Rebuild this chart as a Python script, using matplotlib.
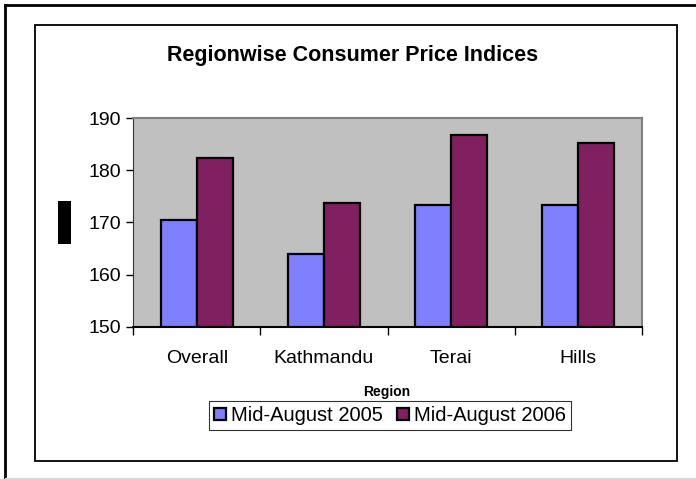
import numpy as np
import matplotlib
matplotlib.use("Agg")
import matplotlib.pyplot as plt
from matplotlib.patches import Rectangle

regions = ["Overall", "Kathmandu", "Terai", "Hills"]
cpi_2005 = [170.5, 164.0, 173.4, 173.4]
cpi_2006 = [182.4, 173.7, 186.7, 185.3]
series_names = ["Mid-August 2005", "Mid-August 2006"]
y_ticks = [150, 160, 170, 180, 190]

W, H = 696, 479
plt.rcParams['font.family'] = ['Liberation Sans', 'DejaVu Sans']

fig = plt.figure(figsize=(W / 100, H / 100), dpi=100)

def px_rect(x0, y0, x1, y1, **kw):
    # rectangle given in pixel coords (top-left origin)
    r = Rectangle((x0 / W, 1 - y1 / H), (x1 - x0) / W, (y1 - y0) / H,
                  transform=fig.transFigure, **kw)
    fig.add_artist(r)

# outer and inner frames
fig.add_artist(plt.Line2D([5 / W, 5 / W], [0, 1 - 5 / H], transform=fig.transFigure, color='black', lw=2))
fig.add_artist(plt.Line2D([5 / W, 1], [1 - 5 / H, 1 - 5 / H], transform=fig.transFigure, color='black', lw=2))
fig.add_artist(plt.Line2D([5 / W, 1], [1 - 477.5 / H, 1 - 477.5 / H], transform=fig.transFigure, color='#dddddd', lw=1))
px_rect(34.5, 24.5, 676.5, 461, fill=False, edgecolor='black', lw=1.3)

ax = fig.add_axes([133.3 / W, 1 - 326.7 / H, 508.4 / W, 208.4 / H])
ax.set_facecolor('#C0C0C0')

x = np.arange(len(regions))
bw = 0.2857
ax.bar(x - bw / 2, np.array(cpi_2005) - 150, bw, bottom=150, color='#8080FF',
       edgecolor='black', linewidth=1.6, label=series_names[0], zorder=3)
ax.bar(x + bw / 2, np.array(cpi_2006) - 150, bw, bottom=150, color='#802060',
       edgecolor='black', linewidth=1.6, label=series_names[1], zorder=3)

ax.set_xlim(-0.5, len(regions) - 0.5)
ax.set_ylim(150, 190)
ax.set_yticks(y_ticks)
ax.set_yticklabels([str(t) for t in y_ticks], fontsize=14)
ax.set_xticks(np.arange(-0.5, len(regions)), minor=False)
ax.set_xticklabels([])
ax.set_xticks(x, minor=True)
ax.set_xticklabels(regions, minor=True, fontsize=14)
ax.tick_params(axis='x', which='major', direction='out', length=6, width=1)
ax.tick_params(axis='x', which='minor', length=0, pad=17)
ax.tick_params(axis='y', direction='out', length=5, width=1, pad=4)

for s in ['top', 'right']:
    ax.spines[s].set_color('#808080')
    ax.spines[s].set_linewidth(1.5)
ax.spines['left'].set_color('#303030')
ax.spines['bottom'].set_color('black')
ax.spines['bottom'].set_linewidth(1.5)

fig.text(353 / W, 1 - 55 / H, "Regionwise Consumer Price Indices", ha='center', va='center',
         fontsize=15.5, fontweight='bold')
fig.text(387 / W, 1 - 392 / H, "Region", ha='center', va='center', fontsize=10,
         fontweight='bold')

# squashed y axis label, drawn as a dark block in the original
px_rect(58, 200.5, 71, 243.5, facecolor='black', edgecolor='black', lw=0)
fig.text(64.5 / W, 1 - 222 / H, "CPI", ha='center', va='center', rotation=90, fontsize=6,
         color='black')

leg = fig.legend(loc='center', bbox_to_anchor=(390 / W, 1 - 415.5 / H), ncol=2, fontsize=14.5,
                 frameon=True, fancybox=False, edgecolor='black', handlelength=0.6,
                 handleheight=0.6, handletextpad=0.25, columnspacing=0.7, borderpad=0.25)
leg.get_frame().set_linewidth(0.8)

fig.savefig("out.png", dpi=100)
